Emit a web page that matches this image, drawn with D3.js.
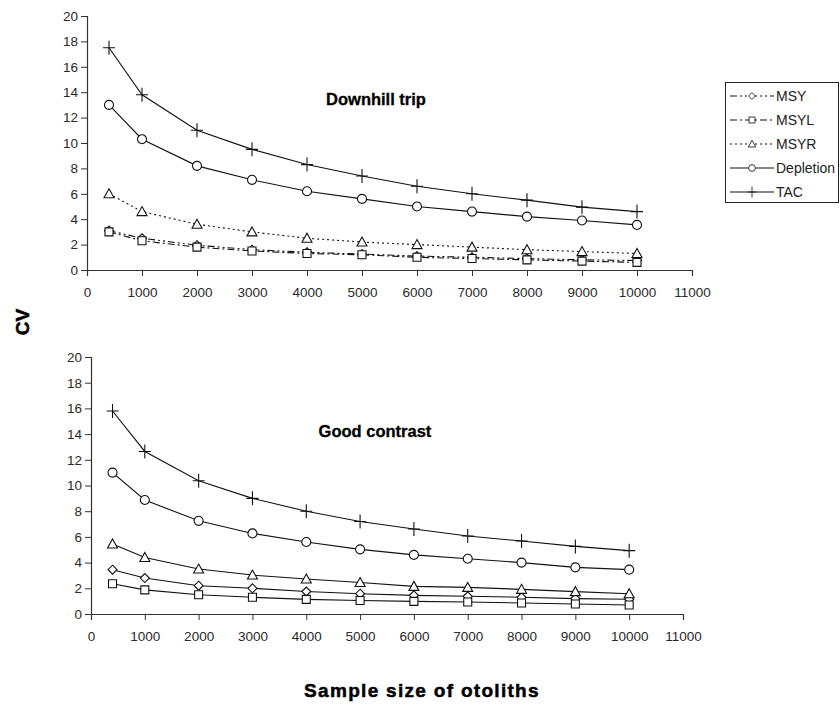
<!DOCTYPE html>
<html><head><meta charset="utf-8">
<script src="https://cdn.jsdelivr.net/npm/d3@7"></script>
<style>
body{margin:0;background:#fff;}
svg{display:block;font-family:"Liberation Sans",Arial,sans-serif;}
</style></head>
<body><svg id="c" width="840" height="705"></svg>
<script>
const sampleSizes = [400,1000,2000,3000,4000,5000,6000,7000,8000,9000,10000];
const xTicks = [0,1000,2000,3000,4000,5000,6000,7000,8000,9000,10000,11000];
const yTicks = [0,2,4,6,8,10,12,14,16,18,20];
const seriesNames = ["MSY","MSYL","MSYR","Depletion","TAC"];
const seriesMarkers = ["diamond","square","triangle","circle","plus"];

// Downhill trip
const downMSY       = [3.1,2.5,1.95,1.6,1.4,1.25,1.1,1.0,0.9,0.8,0.75];
const downMSYL      = [3.0,2.3,1.8,1.5,1.3,1.2,1.0,0.9,0.8,0.7,0.6];
const downMSYR      = [6.0,4.6,3.6,3.0,2.5,2.2,2.0,1.8,1.6,1.45,1.3];
const downDepletion = [13.0,10.3,8.2,7.1,6.2,5.6,5.0,4.6,4.2,3.9,3.55];
const downTAC       = [17.5,13.8,11.0,9.5,8.3,7.4,6.6,6.0,5.5,4.95,4.6];

// Good contrast
const goodMSY       = [3.45,2.8,2.2,2.0,1.75,1.58,1.45,1.38,1.3,1.2,1.15];
const goodMSYL      = [2.35,1.88,1.5,1.3,1.14,1.05,0.98,0.93,0.86,0.78,0.7];
const goodMSYR      = [5.45,4.4,3.5,3.03,2.72,2.45,2.15,2.07,1.92,1.74,1.58];
const goodDepletion = [11.0,8.87,7.25,6.27,5.6,5.03,4.6,4.3,4.0,3.63,3.45];
const goodTAC       = [15.8,12.65,10.37,9.0,8.0,7.2,6.62,6.07,5.68,5.26,4.93];

const svg = d3.select("#c");
const axisColor = "#333";

function markerPath(type){
  if(type==="diamond") return "M0,-4.5L4.5,0L0,4.5L-4.5,0Z";
  if(type==="square") return "M-4,-4H4V4H-4Z";
  if(type==="triangle") return "M0,-5L5,4H-5Z";
  if(type==="circle") return d3.symbol(d3.symbolCircle,64)();
  if(type==="plus") return "M-6,0H6M0,-7V7";
  return "";
}

function drawPanel(cfg){
  const x = d3.scaleLinear().domain([0,11000]).range([cfg.x0,cfg.x1]);
  const y = d3.scaleLinear().domain([0,20]).range([cfg.y0,cfg.y1]);
  const g = svg.append("g");
  const xa = g.append("g").attr("transform",`translate(0,${cfg.y0})`)
    .call(d3.axisBottom(x).tickValues(xTicks).tickSize(6).tickPadding(11).tickFormat(d3.format("d")));
  const ya = g.append("g").attr("transform",`translate(${cfg.x0},0)`)
    .call(d3.axisLeft(y).tickValues(yTicks).tickSize(6).tickPadding(3));
  [xa,ya].forEach(a=>{
    a.select(".domain").attr("stroke",axisColor).attr("stroke-width",1.2);
    a.selectAll(".tick line").attr("stroke",axisColor);
    a.selectAll("text").attr("fill","#2a2a2a").style("font-size","13.5px").style("font-family","Liberation Sans, Arial, sans-serif");
  });
  const line = d3.line().x((d,i)=>x(sampleSizes[i])).y(d=>y(d));
  cfg.series.forEach((s,k)=>{
    g.append("path").attr("d",line(s.values)).attr("fill","none")
      .attr("stroke","#111").attr("stroke-width",1.1)
      .attr("stroke-dasharray",s.dash||null);
    g.selectAll(null).data(s.values).enter().append("path")
      .attr("transform",(d,i)=>`translate(${x(sampleSizes[i])},${y(d)})`)
      .attr("d",markerPath(s.marker))
      .attr("fill",s.marker==="plus"?"none":"#fff")
      .attr("stroke","#111").attr("stroke-width",1.1);
  });
  g.append("text").attr("x",cfg.titleX).attr("y",cfg.titleY)
    .attr("text-anchor","middle").attr("dominant-baseline","central")
    .attr("stroke","#000").attr("stroke-width",0.3)
    .style("font-weight","bold").style("font-size","16.5px").text(cfg.title);
}

const dashes = ["7,3,2,3,2,3","7,3,2,3","2,3",null,null];

drawPanel({x0:87,x1:692,y0:270,y1:16,title:"Downhill trip",titleX:376,titleY:99,
  series:[downMSY,downMSYL,downMSYR,downDepletion,downTAC].map((v,i)=>({values:v,marker:seriesMarkers[i],dash:dashes[i]}))});
drawPanel({x0:91,x1:683,y0:614,y1:357,title:"Good contrast",titleX:375,titleY:431,
  series:[goodMSY,goodMSYL,goodMSYR,goodDepletion,goodTAC].map((v,i)=>({values:v,marker:seriesMarkers[i],dash:null}))});

// legend
const lg = svg.append("g");
lg.append("rect").attr("x",725.5).attr("y",82.5).attr("width",113).attr("height",120)
  .attr("fill","#fff").attr("stroke","#222").attr("stroke-width",1);
seriesNames.forEach((n,i)=>{
  const yy = 96 + i*24;
  lg.append("line").attr("x1",730).attr("x2",774).attr("y1",yy).attr("y2",yy)
    .attr("stroke","#111").attr("stroke-width",1.1).attr("stroke-dasharray",dashes[i]);
  lg.append("path").attr("d",markerPath(seriesMarkers[i]))
    .attr("fill",seriesMarkers[i]==="plus"?"none":"#fff").attr("stroke","#111").attr("stroke-width",1.1)
    .attr("transform",`translate(752,${yy}) scale(0.75)`);
  lg.append("text").attr("x",776).attr("y",yy).attr("dominant-baseline","central")
    .style("font-size","14px").attr("fill","#222").text(n);
});

svg.append("text").attr("transform","translate(22,322) rotate(-90)")
  .attr("text-anchor","middle").attr("dominant-baseline","central")
  .attr("stroke","#000").attr("stroke-width",0.5)
  .style("font-weight","bold").style("font-size","19px").text("CV");
svg.append("text").attr("x",422).attr("y",690)
  .attr("text-anchor","middle").attr("dominant-baseline","central")
  .attr("stroke","#000").attr("stroke-width",0.5)
  .style("font-weight","bold").style("font-size","19px").style("letter-spacing","1.3px").text("Sample size of otoliths");
</script></body></html>
